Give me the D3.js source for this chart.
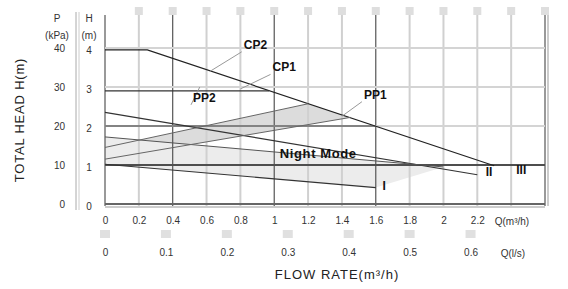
<!DOCTYPE html>
<html><head><meta charset="utf-8">
<script src="https://cdn.jsdelivr.net/npm/d3@7"></script>
<style>
body{margin:0;background:#fff;}
text{font-family:"Liberation Sans Narrow","Liberation Sans",Arial,sans-serif;}
</style></head>
<body><svg id="c" width="568" height="289"></svg>
<script>
// ---- data (Q in m3/h, H in m) ----
const qTicksM3h = [0,0.2,0.4,0.6,0.8,1.0,1.2,1.4,1.6,1.8,2.0,2.2];
const qTicksLs = [0,0.1,0.2,0.3,0.4,0.5,0.6];
const hTicks = [0,1,2,3,4];
const pTicks = [0,10,20,30,40];
const gridQ = [0,0.2,0.4,0.6,0.8,1.0,1.2,1.4,1.6,1.8,2.0,2.2,2.4,2.6];
const darkGridQ = [0,0.4,1.0,1.6,2.6];

const speedIII_Q = [0,0.25,2.3];   const speedIII_H = [3.95,3.95,0.98];
const speedII_Q  = [0,2.2];        const speedII_H  = [2.35,0.75];
const speedI_Q   = [0,1.6];        const speedI_H   = [1.02,0.42];
const night_Q    = [0,2.0];        const night_H    = [1.72,0.95];
const cp2_Q      = [0,0.97];       const cp2_H      = [2.9,2.9];
const cp1_Q      = [0,1.6];        const cp1_H      = [2.0,2.0];
const pp2_Q      = [0,1.2];        const pp2_H      = [1.45,2.57];
const pp1_Q      = [0,1.45];       const pp1_H      = [1.15,2.22];
const oneMeter_Q = [0,2.6];        const oneMeter_H = [1.0,1.0];

// curve labels: [text, Q, H, leaderQ, leaderH, fontSize]
const labels = [
  ["CP2",0.82,3.98,0.62,3.4,12],
  ["CP1",0.99,3.4,0.8,2.95,12],
  ["PP2",0.52,2.62,0.56,3.0,12],
  ["PP1",1.53,2.7,1.4,2.25,12],
  ["Night Mode",1.26,1.18,null,null,13],
  ["I",1.64,0.36,null,null,12],
  ["II",2.25,0.72,null,null,12],
  ["III",2.43,0.78,null,null,12]
];

const svg = d3.select("#c");
const x = d3.scaleLinear().domain([0,2.6]).range([105,545]);
const xLs = d3.scaleLinear().domain([0,2.6/3.6]).range([105,545]);
const y = d3.scaleLinear().domain([0,4]).range([204,48]);
const yP = d3.scaleLinear().domain([0,40]).range([204,48]);

// gray shading (operating areas)
const shadeQ = pp1_Q.concat(pp2_Q.slice().reverse());
const shadeH = pp1_H.concat(pp2_H.slice().reverse());
svg.append("path")
  .attr("d", d3.line()(shadeQ.map((q,i)=>[x(q),y(shadeH[i])])) + "Z")
  .attr("fill","#dcdcdc");
const shade2Q = [0,1.6,2.0,0];
const shade2H = [1.02,0.42,0.95,1.72];
svg.append("path")
  .attr("d", d3.line()(shade2Q.map((q,i)=>[x(q),y(shade2H[i])])) + "Z")
  .attr("fill","#ececec");

// vertical grid
svg.append("g").selectAll("line").data(gridQ).join("line")
  .attr("x1",d=>x(d)).attr("x2",d=>x(d)).attr("y1",15).attr("y2",206)
  .attr("stroke",d=>darkGridQ.includes(d)?"#555":"#d0d0d0")
  .attr("stroke-width",d=>darkGridQ.includes(d)?1.2:2);
svg.append("g").selectAll("rect").data(gridQ.slice(1)).join("rect")
  .attr("x",d=>x(d)-4).attr("y",7).attr("width",8).attr("height",8).attr("fill","#dedede");
svg.append("line").attr("x1",x(2.6)+3).attr("x2",x(2.6)+3).attr("y1",15).attr("y2",206)
  .attr("stroke","#ccc").attr("stroke-width",2);
// horizontal grid
svg.append("g").selectAll("line").data(hTicks).join("line")
  .attr("x1",x(0)).attr("x2",x(2.6)).attr("y1",d=>y(d)).attr("y2",d=>y(d))
  .attr("stroke",d=>d===0?"#666":"#d4d4d4").attr("stroke-width",2);
svg.append("line").attr("x1",x(0)).attr("x2",x(2.6)).attr("y1",y(0)+3).attr("y2",y(0)+3)
  .attr("stroke","#999").attr("stroke-width",1);
// left label-column divider
svg.append("line").attr("x1",76).attr("x2",76).attr("y1",12).attr("y2",210).attr("stroke","#aaa").attr("stroke-width",1);
svg.append("line").attr("x1",79).attr("x2",79).attr("y1",12).attr("y2",210).attr("stroke","#ccc").attr("stroke-width",1);

// curves
const curves = [
  [oneMeter_Q,oneMeter_H,"#222",1.3],
  [speedIII_Q,speedIII_H,"#222",1.2],
  [speedII_Q,speedII_H,"#333",1.1],
  [speedI_Q,speedI_H,"#333",1.1],
  [night_Q,night_H,"#555",1],
  [cp2_Q,cp2_H,"#333",1.1],
  [cp1_Q,cp1_H,"#333",1.1],
  [pp2_Q,pp2_H,"#666",1],
  [pp1_Q,pp1_H,"#666",1]
];
const line = d3.line();
svg.append("g").selectAll("path").data(curves).join("path")
  .attr("d",c=>line(c[0].map((q,i)=>[x(q),y(c[1][i])])))
  .attr("fill","none").attr("stroke",c=>c[2]).attr("stroke-width",c=>c[3]);

// labels + leaders
const lg = svg.append("g");
lg.selectAll("line").data(labels.filter(l=>l[3]!==null)).join("line")
  .attr("x1",d=>x(d[1])-2).attr("y1",d=>y(d[2])+3)
  .attr("x2",d=>x(d[3])).attr("y2",d=>y(d[4]))
  .attr("stroke","#999").attr("stroke-width",1);
lg.selectAll("text").data(labels).join("text")
  .attr("x",d=>x(d[1])).attr("y",d=>y(d[2]))
  .attr("font-size",d=>d[5]).attr("font-weight","bold").attr("fill","#111")
  .attr("letter-spacing",d=>d[0]==="Night Mode"?0.6:0)
  .attr("text-anchor",d=>d[0]==="Night Mode"?"middle":"start")
  .text(d=>d[0]);

// axes
const axQ = d3.axisBottom(x).tickValues(qTicksM3h).tickSize(0).tickFormat(d3.format("~g"));
const gQ = svg.append("g").attr("transform","translate(0,214)").call(axQ);
const axL = d3.axisBottom(xLs).tickValues(qTicksLs).tickSize(0).tickFormat(d3.format("~g"));
const gL = svg.append("g").attr("transform","translate(0,246)").call(axL);
const axH = d3.axisLeft(y).tickValues(hTicks).tickSize(0).tickFormat(d3.format("d"));
const gH = svg.append("g").attr("transform","translate(95,2)").call(axH);
const axP = d3.axisLeft(yP).tickValues(pTicks).tickSize(0).tickFormat(d3.format("d"));
const gP = svg.append("g").attr("transform","translate(68,0)").call(axP);
[gQ,gL,gH,gP].forEach(g=>{
  g.select(".domain").remove();
  g.selectAll("text").attr("font-size",10).attr("fill","#333")
   .attr("font-family","'Liberation Sans Narrow','Liberation Sans',Arial,sans-serif");
});
gH.selectAll("text").attr("x",-6).attr("text-anchor","middle");
// small tick squares under upper axis
svg.append("g").selectAll("rect").data(qTicksLs).join("rect")
  .attr("x",d=>xLs(d)-5).attr("y",230).attr("width",10).attr("height",8).attr("fill","#e0e0e0");

svg.append("text").attr("x",512).attr("y",225).attr("font-size",10).attr("fill","#333").attr("text-anchor","middle").text("Q(m³/h)");
svg.append("text").attr("x",513).attr("y",257).attr("font-size",10).attr("fill","#333").attr("text-anchor","middle").text("Q(l/s)");
svg.append("text").attr("x",57).attr("y",22).attr("font-size",10).attr("fill","#333").attr("text-anchor","middle").text("P");
svg.append("text").attr("x",57).attr("y",39).attr("font-size",10).attr("fill","#333").attr("text-anchor","middle").text("(kPa)");
svg.append("text").attr("x",89).attr("y",22).attr("font-size",10).attr("fill","#333").attr("text-anchor","middle").text("H");
svg.append("text").attr("x",89).attr("y",39).attr("font-size",10).attr("fill","#333").attr("text-anchor","middle").text("(m)");

svg.append("text").attr("transform","translate(24,120) rotate(-90)").attr("text-anchor","middle")
  .attr("font-size",13).attr("letter-spacing",0.8).attr("fill","#222").attr("font-family","'Liberation Sans',Arial,sans-serif").text("TOTAL HEAD H(m)");
svg.append("text").attr("x",337).attr("y",279).attr("text-anchor","middle")
  .attr("font-size",13).attr("letter-spacing",1).attr("fill","#222").attr("font-family","'Liberation Sans',Arial,sans-serif").text("FLOW RATE(m³/h)");
</script></body></html>
